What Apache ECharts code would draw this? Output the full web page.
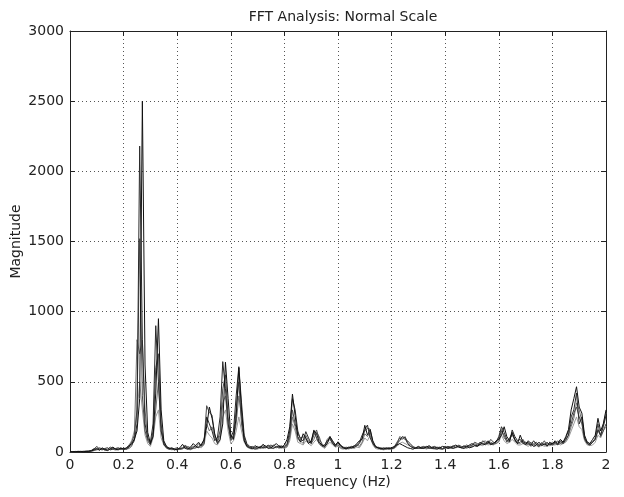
<!DOCTYPE html>
<html>
<head>
<meta charset="utf-8">
<script src="https://cdn.jsdelivr.net/npm/echarts@6/dist/echarts.min.js"></script>
<style>html,body{margin:0;padding:0;background:#fff}#c{width:624px;height:497px}</style>
</head>
<body>
<div id="c"></div>
<script>
// FFT bins: 0 .. 2 Hz, step 0.01 Hz
const FREQ_STEP = 0.01;
const BIN_COUNT = 201;
const xTicks = [0, 0.2, 0.4, 0.6, 0.8, 1, 1.2, 1.4, 1.6, 1.8, 2];
const yTicks = [0, 500, 1000, 1500, 2000, 2500, 3000];

const magA = [
2,3,2,4,3,5,4,6,8,15,
25,12,30,18,10,22,35,20,15,28,
20,30,45,60,90,150,380,2500,620,140,
60,110,420,950,300,80,40,25,30,20,
15,30,55,25,20,35,60,40,30,50,
90,180,320,240,130,60,90,200,640,380,
120,90,250,600,300,80,40,30,25,45,
35,30,55,40,25,30,45,60,40,35,
50,90,180,413,260,110,70,130,100,60,
80,150,130,70,50,40,60,110,80,50,
70,40,30,25,35,30,40,60,80,90,
190,120,160,80,40,30,25,20,30,25,
30,40,50,60,50,40,30,25,20,30,
40,30,25,35,45,30,25,20,30,40,
35,25,30,40,50,35,30,25,40,30,
35,45,40,55,60,50,70,60,55,80,
90,120,180,110,80,140,90,60,120,70,
50,80,60,40,50,70,45,60,40,70,
55,80,60,90,70,110,160,300,380,465,
320,277,120,70,60,90,120,240,150,200,
300];
const magB = [
1,2,4,3,2,3,5,4,10,20,
40,20,15,25,30,15,20,25,30,20,
25,20,35,50,80,200,2180,800,200,100,
70,200,900,500,150,60,30,20,25,15,
20,25,30,40,25,20,30,50,70,40,
60,250,200,150,80,100,250,644,450,200,
100,150,400,608,350,120,60,40,30,20,
25,40,30,35,50,30,25,40,35,30,
40,60,150,380,300,150,90,80,145,100,
60,157,100,60,40,50,80,100,60,40,
73,50,30,20,30,40,30,50,70,120,
160,192,100,60,35,30,20,30,25,20,
25,30,60,80,110,100,60,40,30,25,
30,25,30,40,30,25,35,30,25,20,
30,40,30,25,35,40,30,45,35,50,
60,50,45,70,55,60,80,50,65,70,
110,180,140,90,70,157,110,80,90,60,
70,60,50,80,55,40,60,50,70,50,
60,70,50,80,60,90,120,250,300,420,
200,250,100,60,50,70,90,160,120,180,
260];
const magC = [
3,2,3,5,4,3,6,5,12,25,
18,30,22,15,20,35,25,18,22,30,
15,25,40,70,120,300,1520,400,150,80,
50,150,600,700,200,50,35,30,20,25,
30,20,25,50,30,25,40,35,60,45,
70,330,280,263,120,80,150,450,550,250,
90,120,300,500,200,90,50,35,40,30,
30,35,45,30,40,50,35,30,45,40,
35,50,120,300,200,130,100,110,90,70,
70,120,157,90,60,40,90,110,70,45,
60,45,35,30,25,35,45,40,60,100,
150,170,162,70,40,25,30,25,20,30,
20,35,70,100,90,110,70,50,35,30,
25,35,40,30,25,35,40,30,35,25,
40,30,35,45,30,50,40,35,50,40,
50,70,60,50,80,65,60,90,70,60,
80,150,120,70,100,130,80,60,70,90,
60,70,40,60,70,50,55,80,45,60,
50,60,80,60,70,100,150,200,277,320,
250,200,90,60,50,70,100,200,110,150,
200];
const magD = [
2,3,4,2,5,3,4,6,5,10,
15,20,25,18,12,20,30,22,20,18,
30,20,25,40,100,800,700,800,300,90,
60,120,300,500,150,70,40,25,20,15,
25,20,25,30,40,30,25,30,40,60,
80,200,150,180,100,70,120,350,400,200,
80,100,200,400,250,100,50,30,25,30,
40,25,35,45,30,40,50,35,30,45,
30,40,100,250,180,90,80,60,120,80,
60,90,140,110,50,30,70,90,60,40,
50,30,25,35,30,25,35,50,40,70,
130,110,140,60,30,35,25,20,25,30,
25,30,45,110,100,90,80,60,40,30,
35,30,35,25,40,30,30,35,30,25,
30,35,40,30,35,45,35,40,30,45,
45,60,50,65,70,80,60,70,60,75,
100,160,100,80,90,120,90,70,60,80,
60,50,70,50,60,40,70,50,60,55,
70,60,50,70,60,80,120,180,240,350,
300,220,100,70,60,70,90,150,120,200,
280];
const magE = [
1,2,2,3,2,4,3,5,6,12,
20,15,25,10,15,25,20,12,18,25,
20,25,50,80,150,280,500,300,120,60,
40,100,250,300,100,50,25,20,15,20,
15,20,20,35,20,15,25,30,35,30,
50,150,120,100,60,50,80,250,300,150,
60,80,150,250,150,70,35,25,20,25,
20,30,25,30,35,25,30,40,25,30,
25,35,80,200,150,70,60,50,80,60,
45,70,90,60,40,25,50,70,50,35,
40,25,20,25,20,30,25,35,30,60,
100,80,120,50,25,20,20,15,20,25,
20,25,40,60,70,60,50,40,30,25,
25,25,30,20,30,25,20,25,20,20,
25,30,30,25,30,35,30,30,25,35,
40,45,40,50,45,60,50,55,50,60,
70,120,80,60,70,90,70,50,50,60,
50,40,55,40,45,35,50,40,45,45,
50,50,60,50,60,70,100,150,200,250,
180,160,80,50,45,50,70,120,100,150,
180];

const seriesList = [
  {name: 'E', data: magE, color: '#9a9a9a'},
  {name: 'D', data: magD, color: '#6e6e6e'},
  {name: 'C', data: magC, color: '#4a4a4a'},
  {name: 'B', data: magB, color: '#2a2a2a'},
  {name: 'A', data: magA, color: '#111111'}
];

const freqs = [];
for (let i = 0; i < BIN_COUNT; i++) freqs.push(+(i * FREQ_STEP).toFixed(2));

const FONT = '"DejaVu Sans", Arial, sans-serif';
const chart = echarts.init(document.getElementById('c'), null, {renderer: 'canvas'});
const axisCommon = {
  axisLine: {show: true, onZero: false, lineStyle: {color: '#222', width: 1}},
  axisTick: {show: true, inside: true, length: 5, lineStyle: {color: '#222'}},
};
chart.setOption({
  animation: false,
  backgroundColor: '#fff',
  title: {
    text: 'FFT Analysis: Normal Scale', left: 338, top: 5, textAlign: 'center',
    textStyle: {fontFamily: FONT, fontSize: 14, fontWeight: 'normal', color: '#222'}
  },
  grid: {left: 70, right: 18, top: 31, bottom: 45, containLabel: false, outerBoundsMode: 'none'},
  xAxis: [{
    type: 'value', min: 0, max: 2, interval: 0.2,
    name: 'Frequency (Hz)', nameLocation: 'middle', nameGap: 23, nameMoveOverlap: false,
    nameTextStyle: {fontFamily: FONT, fontSize: 14, color: '#222'},
    ...axisCommon,
    axisLabel: {fontFamily: FONT, fontSize: 14, color: '#222', margin: 6,
      formatter: v => { const t = xTicks.find(x => Math.abs(x - v) < 1e-6); return t === undefined ? '' : String(t); }},
    splitLine: {show: true, lineStyle: {color: '#555', type: [1, 3], width: 1}}
  }, {
    type: 'value', min: 0, max: 2, interval: 0.2, position: 'top',
    ...axisCommon, axisLabel: {show: false}, splitLine: {show: false}
  }],
  yAxis: [{
    type: 'value', min: 0, max: 3000, interval: 500,
    name: 'Magnitude', nameLocation: 'middle', nameGap: 47, nameMoveOverlap: false,
    nameTextStyle: {fontFamily: FONT, fontSize: 14, color: '#222'},
    ...axisCommon,
    axisLabel: {fontFamily: FONT, fontSize: 14, color: '#222', margin: 6,
      formatter: v => String(yTicks.find(y => y === v) ?? v)},
    splitLine: {show: true, lineStyle: {color: '#555', type: [1, 3], width: 1}}
  }, {
    type: 'value', min: 0, max: 3000, interval: 500, position: 'right',
    ...axisCommon, axisLabel: {show: false}, splitLine: {show: false}
  }],
  series: seriesList.map(s => ({
    name: s.name, type: 'line', xAxisIndex: 0, yAxisIndex: 0,
    data: s.data.map((v, i) => [freqs[i], v]),
    showSymbol: false, symbol: 'none',
    lineStyle: {color: s.color, width: 1},
    itemStyle: {color: s.color}
  }))
});
</script>
</body>
</html>
